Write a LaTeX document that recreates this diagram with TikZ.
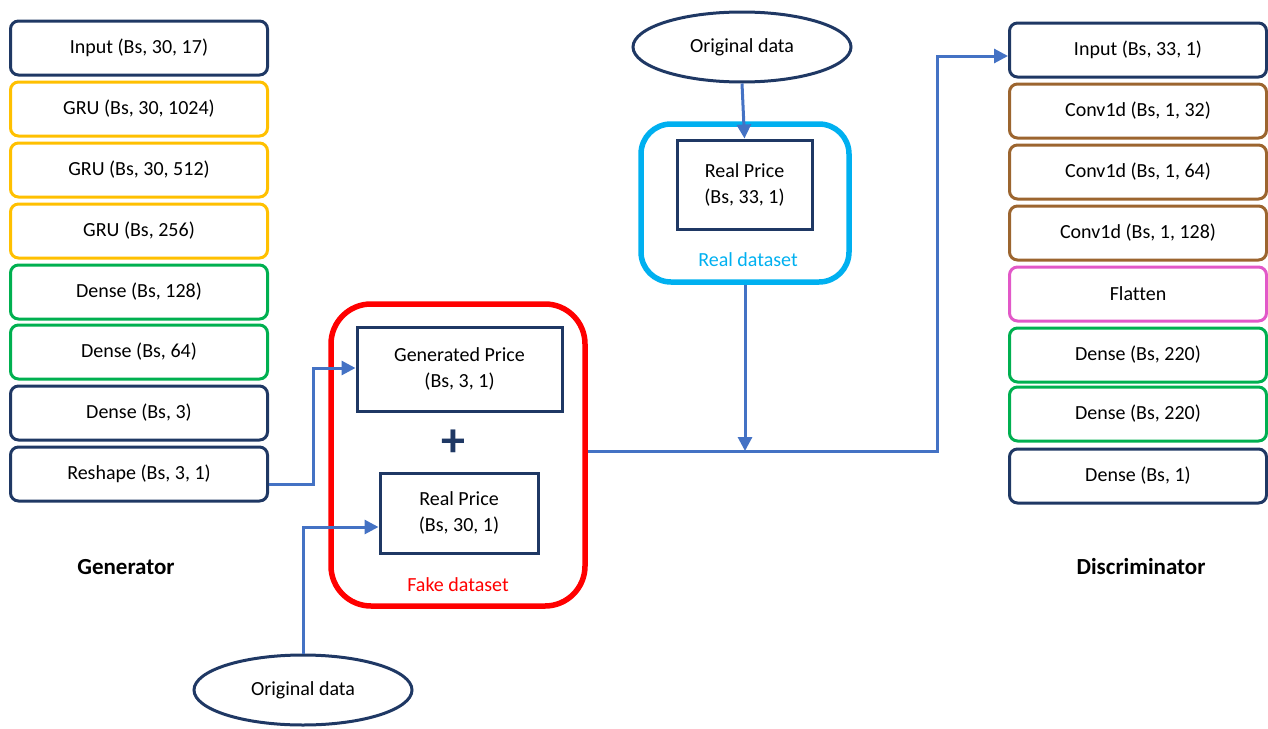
\documentclass[tikz,border=0pt]{standalone}
\usepackage{fontspec}
\setmainfont{Carlito}[Ligatures=NoCommon]
\usetikzlibrary{shapes.geometric,arrows.meta}
\definecolor{navy}{RGB}{31,56,100}
\definecolor{gold}{RGB}{255,192,0}
\definecolor{grn}{RGB}{0,176,80}
\definecolor{brn}{RGB}{156,101,47}
\definecolor{pnk}{RGB}{226,88,200}
\definecolor{cyn}{RGB}{0,176,240}
\definecolor{arr}{RGB}{68,114,196}
\tikzset{
  layer/.style={draw=#1, line width=3pt, rounded corners=8pt, minimum width=257pt, minimum height=54pt, inner sep=0pt, fill=white, font=\fontsize{20}{24}\selectfont},
  pricebox/.style={draw=navy, line width=3pt, inner sep=0pt, align=center, font=\fontsize{20}{26}\selectfont},
  orig/.style={ellipse, draw=navy, line width=3pt, minimum width=218pt, minimum height=70pt, inner sep=0pt, font=\fontsize{20}{24}\selectfont},
  conn/.style={draw=arr, line width=3pt, -{Triangle[length=14pt,width=14pt]}},
  lbl/.style={font=\fontsize{23}{27}\selectfont\bfseries},
}
\begin{document}
\begin{tikzpicture}[x=1pt,y=-1pt]
\useasboundingbox (0,0) rectangle (1268,728);
% Generator column
\node[layer=navy] (g1) at (139,48) {Input (Bs, 30, 17)};
\node[layer=gold] (g2) at (139,109) {GRU (Bs, 30, 1024)};
\node[layer=gold] (g3) at (139,170) {GRU (Bs, 30, 512)};
\node[layer=gold] (g4) at (139,231) {GRU (Bs, 256)};
\node[layer=grn] (g5) at (139,292) {Dense (Bs, 128)};
\node[layer=grn] (g6) at (139,352) {Dense (Bs, 64)};
\node[layer=navy] (g7) at (139,413) {Dense (Bs, 3)};
\node[layer=navy] (g8) at (139,474) {Reshape (Bs, 3, 1)};
\node[lbl] (gen) at (126,567) {Generator};
% Discriminator column
\node[layer=navy] (d1) at (1138,50) {Input (Bs, 33, 1)};
\node[layer=brn] (d2) at (1138,111) {Conv1d (Bs, 1, 32)};
\node[layer=brn] (d3) at (1138,172) {Conv1d (Bs, 1, 64)};
\node[layer=brn] (d4) at (1138,233) {Conv1d (Bs, 1, 128)};
\node[layer=pnk] (d5) at (1138,294) {Flatten};
\node[layer=grn] (d6) at (1138,355) {Dense (Bs, 220)};
\node[layer=grn] (d7) at (1138,414) {Dense (Bs, 220)};
\node[layer=navy] (d8) at (1138,476) {Dense (Bs, 1)};
\node[lbl] (disc) at (1141,567) {Discriminator};
% Fake dataset
\node[draw=red, line width=5.5pt, rounded corners=40pt, minimum width=254pt, minimum height=302pt, inner sep=0pt] (fake) at (458,455) {};
\node[pricebox, minimum width=205pt, minimum height=84pt] (gp) at (459.5,369) {Generated Price\\(Bs, 3, 1)};
\node[font=\fontsize{48}{48}\selectfont\bfseries, text=navy, inner sep=0pt] (plus) at (453,443) {+};
\node[pricebox, minimum width=158pt, minimum height=80pt] (rp) at (459,513) {Real Price\\(Bs, 30, 1)};
\node[text=red, font=\fontsize{20}{24}\selectfont] (fakelbl) at (458,585) {Fake dataset};
% Real dataset
\node[draw=cyn, line width=5.5pt, rounded corners=30pt, minimum width=208pt, minimum height=158pt, inner sep=0pt] (real) at (745,203) {};
\node[pricebox, minimum width=135pt, minimum height=89pt] (rp2) at (744.5,184.5) {Real Price\\(Bs, 33, 1)};
\node[text=cyn, font=\fontsize{20}{24}\selectfont] (reallbl) at (748,260) {Real dataset};
% Original data
\node[orig] (o1) at (742,47) {Original data};
\node[orig] (o2) at (303,690) {Original data};
% Connectors
\coordinate (merge) at (745,451);
\draw[conn] (o1.south) -- (rp2.north);
\draw[conn] (g8.east |- 0,484) -- (313,484) -- (313,368) -- (gp.west |- 0,368);
\draw[conn] (o2.north) -- (303,527) -- (rp.west |- 0,527);
\draw[conn] (real.south -| merge) -- (merge);
\draw[conn] (fake.east |- merge) -- (937,451) -- (937,56) -- (d1.west |- 0,56);
\end{tikzpicture}
\end{document}
